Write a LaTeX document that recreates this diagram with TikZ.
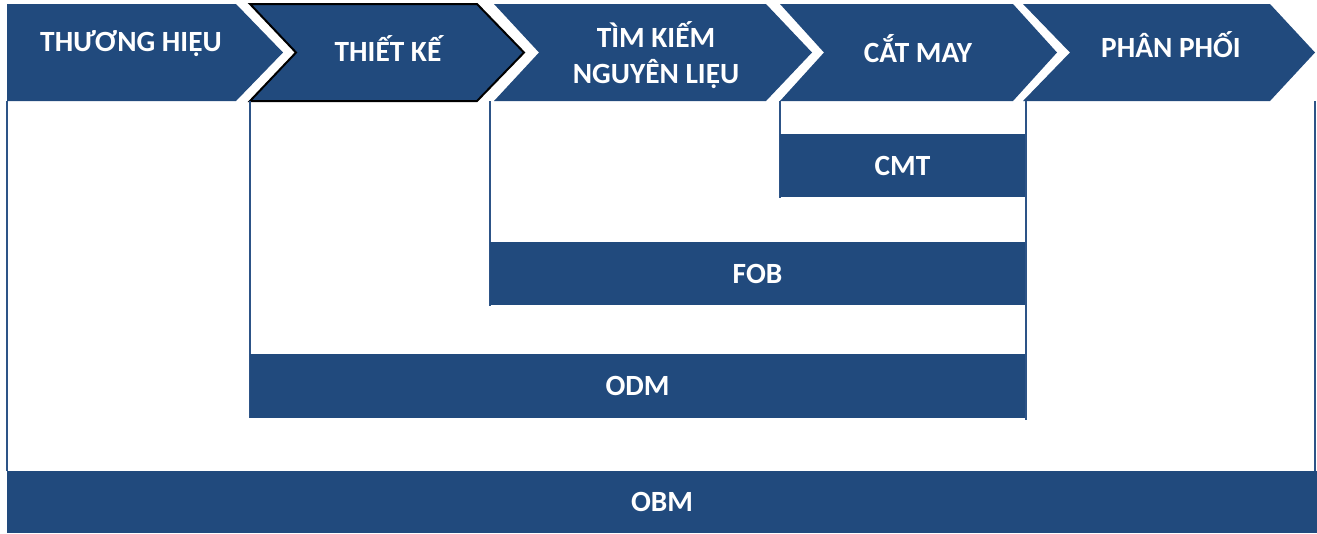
\documentclass[tikz,border=0pt]{standalone}
\usepackage{fontspec}
\setmainfont{Carlito}
\definecolor{navy}{RGB}{33,74,125}
\definecolor{navyline}{RGB}{45,84,135}

\begin{document}
\begin{tikzpicture}[x=0.75pt,y=-0.75pt,
  chev/.style={fill=navy},
  bar/.style={fill=navy},
  wall/.style={draw=navyline, line width=2pt},
  lbl/.style={text=white, font=\fontsize{22}{27}\selectfont\bfseries, align=center}]
  \useasboundingbox (0,0) rectangle (1317,533);

  % Chevrons along the top
  \fill[chev] (7,4) -- (236,4) -- (283,52.5) -- (236,101) -- (7,101) -- cycle;
  \filldraw[chev, draw=black, line width=1.5pt] (250,4) -- (477,4) -- (524,52.5) -- (477,101) -- (250,101) -- (296,52.5) -- cycle;
  \fill[chev] (494,4) -- (766,4) -- (812,52.5) -- (766,101) -- (494,101) -- (539,52.5) -- cycle;
  \fill[chev] (780,4) -- (1013,4) -- (1057,52.5) -- (1013,101) -- (780,101) -- (824,52.5) -- cycle;
  \fill[chev] (1023,4) -- (1270,4) -- (1315,52.5) -- (1270,101) -- (1023,101) -- (1070,52.5) -- cycle;

  % Side walls of the nested boxes
  \draw[wall] (7,101) -- (7,471);
  \draw[wall] (1315,101) -- (1315,471);
  \draw[wall] (250,101) -- (250,418);
  \draw[wall] (1026,101) -- (1026,420);
  \draw[wall] (490,101) -- (490,306);
  \draw[wall] (780,101) -- (780,198);

  % Bars
  \fill[bar] (780,134) rectangle (1025,197);
  \fill[bar] (490,242) rectangle (1025,305);
  \fill[bar] (250,354) rectangle (1025,418);
  \fill[bar] (7,471) rectangle (1317,533);

  % Labels
  \node[lbl] (brand) at (131,44) {THƯƠNG HIỆU};
  \node[lbl] (design) at (388,49) {THIẾT KẾ};
  \node[lbl] (source) at (656,55) {TÌM KIẾM\\NGUYÊN LIỆU};
  \node[lbl] (sew) at (918,49) {CẮT MAY};
  \node[lbl] (dist) at (1171,45) {PHÂN PHỐI};
  \node[lbl] (cmt) at (902.5,165.5) {CMT};
  \node[lbl] (fob) at (757.5,273.5) {FOB};
  \node[lbl] (odm) at (637.5,386) {ODM};
  \node[lbl] (obm) at (662,502) {OBM};

\end{tikzpicture}
\end{document}
